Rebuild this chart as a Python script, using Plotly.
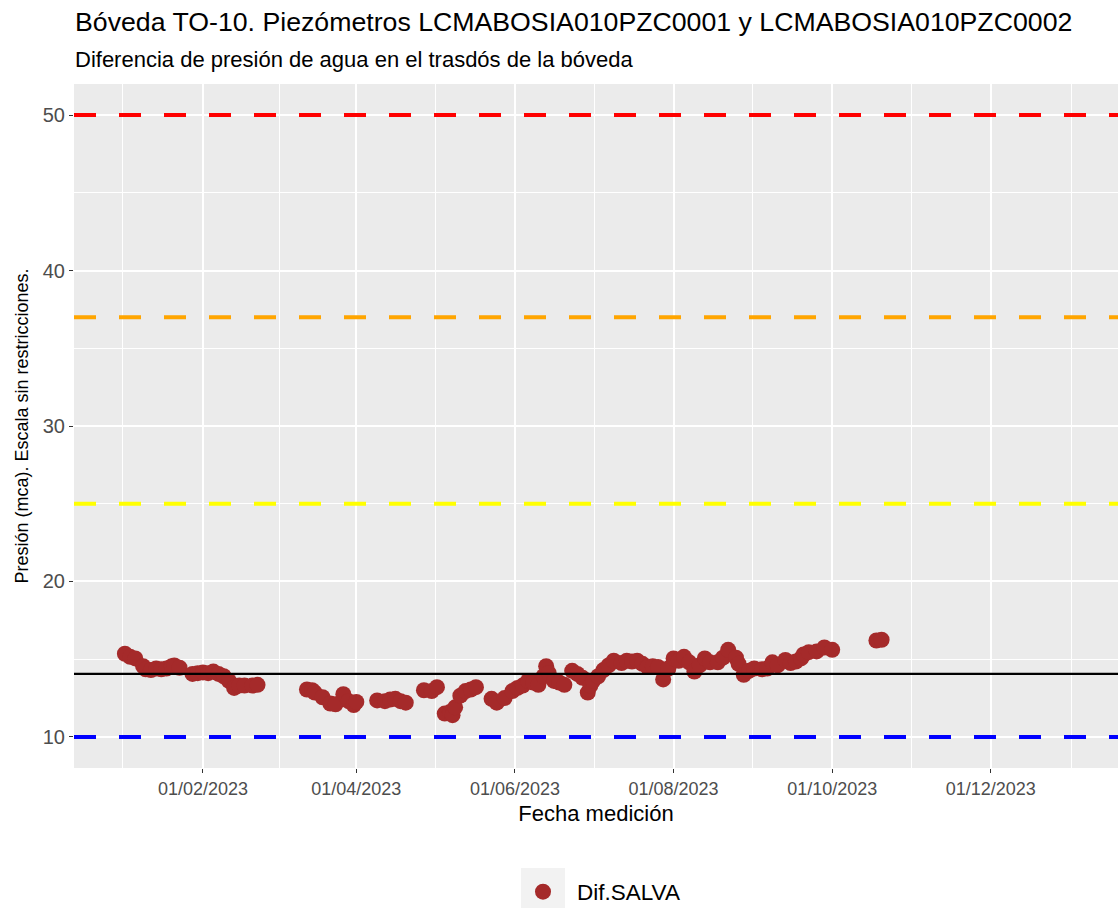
import pandas as pd
import plotly.graph_objects as go

# Medidas: diferencia de presión (mca) entre los dos piezómetros
fechas = [
    "2023-01-02", "2023-01-04", "2023-01-06", "2023-01-09", "2023-01-10", "2023-01-12",
    "2023-01-14", "2023-01-16", "2023-01-18", "2023-01-20", "2023-01-21", "2023-01-23",
    "2023-01-28", "2023-01-30", "2023-02-01", "2023-02-03", "2023-02-05", "2023-02-07",
    "2023-02-09", "2023-02-11", "2023-02-13", "2023-02-15", "2023-02-17", "2023-02-20",
    "2023-02-22",
    "2023-03-13", "2023-03-15", "2023-03-16", "2023-03-19", "2023-03-22", "2023-03-24",
    "2023-03-27", "2023-03-29", "2023-03-31", "2023-04-01", "2023-04-09", "2023-04-12",
    "2023-04-14", "2023-04-16", "2023-04-18", "2023-04-20", "2023-04-27", "2023-04-30",
    "2023-05-02", "2023-05-05", "2023-05-07", "2023-05-08", "2023-05-09", "2023-05-11",
    "2023-05-13", "2023-05-15", "2023-05-17",
    "2023-05-23", "2023-05-25", "2023-05-28", "2023-05-31", "2023-06-02", "2023-06-04",
    "2023-06-06", "2023-06-08", "2023-06-10", "2023-06-12", "2023-06-13", "2023-06-14",
    "2023-06-16", "2023-06-18", "2023-06-20", "2023-06-23", "2023-06-25", "2023-06-27",
    "2023-06-29", "2023-06-30",
    "2023-07-01", "2023-07-03", "2023-07-05", "2023-07-07", "2023-07-09", "2023-07-12",
    "2023-07-14", "2023-07-16", "2023-07-18", "2023-07-20", "2023-07-22", "2023-07-24",
    "2023-07-26", "2023-07-28", "2023-07-30", "2023-08-01", "2023-08-03", "2023-08-05",
    "2023-08-07", "2023-08-09", "2023-08-11", "2023-08-13", "2023-08-15", "2023-08-18",
    "2023-08-20", "2023-08-22", "2023-08-25", "2023-08-26", "2023-08-28", "2023-08-30",
    "2023-09-01", "2023-09-04", "2023-09-06", "2023-09-08", "2023-09-10", "2023-09-13",
    "2023-09-15", "2023-09-17", "2023-09-19", "2023-09-20", "2023-09-22", "2023-09-25",
    "2023-09-28", "2023-10-01", "2023-10-18", "2023-10-20",
]
dif_salva = [
    15.35, 15.15, 15.05, 14.55, 14.35, 14.30,
    14.40, 14.35, 14.40, 14.55, 14.60, 14.45,
    14.05, 14.10, 14.15, 14.10, 14.20, 14.05,
    13.90, 13.60, 13.15, 13.30, 13.30, 13.30,
    13.35,
    13.05, 13.00, 12.85, 12.55, 12.15, 12.10,
    12.75, 12.30, 12.05, 12.25, 12.35, 12.30,
    12.40, 12.45, 12.30, 12.20, 13.00, 12.95,
    13.20, 11.50, 11.60, 11.40, 11.90, 12.65,
    12.95, 13.05, 13.20,
    12.45, 12.20, 12.50, 12.95, 13.15, 13.30,
    13.60, 13.50, 13.35, 13.90, 14.55, 14.10,
    13.60, 13.50, 13.35, 14.25, 14.05, 13.80,
    12.85, 13.30,
    13.60, 13.90, 14.30, 14.60, 14.90, 14.75,
    14.90, 14.85, 14.90, 14.70, 14.50, 14.55,
    14.50, 13.70, 14.40, 15.05, 14.90, 15.15,
    14.80, 14.20, 14.60, 15.05, 14.80, 14.80,
    15.10, 15.60, 15.10, 14.70, 14.00, 14.25,
    14.40, 14.35, 14.40, 14.80, 14.60, 14.95,
    14.75, 14.85, 15.05, 15.30, 15.45, 15.50,
    15.75, 15.60, 16.20, 16.25,
]

# Umbrales de aviso y valor medio de referencia
umbrales = [50, 37, 25, 10]
colores_umbral = ["#FF0000", "#FFA500", "#FFFF00", "#0000FF"]
media = 14.05

# Ejes
x_breaks = ["2023-02-01", "2023-04-01", "2023-06-01", "2023-08-01", "2023-10-01", "2023-12-01"]
x_labels = ["01/02/2023", "01/04/2023", "01/06/2023", "01/08/2023", "01/10/2023", "01/12/2023"]
x_limits = ["2022-12-13 10:00", "2024-01-18 22:00"]
y_breaks = [10, 20, 30, 40, 50]
y_limits = [8, 52]

# Rejilla secundaria a mitad de camino entre marcas principales
bx = pd.to_datetime(["2022-12-01"] + x_breaks + ["2024-02-01"])
x_minor = [(a + (b - a) / 2).strftime("%Y-%m-%d %H:%M") for a, b in zip(bx[:-1], bx[1:])]
y_minor = [(a + b) / 2 for a, b in zip(y_breaks[:-1], y_breaks[1:])]

FONT = "Liberation Sans, Arial, sans-serif"
L, R, T, B = 74, 2, 84, 140
W, H = 1120, 908
PW, PH = W - L - R, H - T - B


def px_x(p):
    return (p - L) / PW


def px_y(p):
    return (H - B - p) / PH


fig = go.Figure()
fig.add_trace(go.Scatter(
    x=pd.to_datetime(fechas), y=dif_salva, mode="markers", name="Dif.SALVA",
    marker=dict(color="#A52A2A", size=16, line=dict(width=0)),
))

shapes = []
for v, c in zip(umbrales, colores_umbral):
    shapes.append(dict(type="line", xref="paper", x0=0, x1=1, yref="y", y0=v, y1=v,
                       line=dict(color=c, width=4, dash="22px,23px"), layer="above"))
shapes.append(dict(type="line", xref="paper", x0=0, x1=1, yref="y", y0=media, y1=media,
                   line=dict(color="black", width=2.2), layer="above"))
# Fondo de la clave de la leyenda
shapes.append(dict(type="rect", xref="paper", yref="paper",
                   x0=px_x(521), x1=px_x(565), y0=px_y(868), y1=px_y(912),
                   fillcolor="#F2F2F2", line=dict(width=0), layer="below"))

fig.update_layout(
    width=W, height=H,
    margin=dict(l=L, r=R, t=T, b=B, autoexpand=False),
    paper_bgcolor="white", plot_bgcolor="#EBEBEB",
    font=dict(family=FONT, color="black"),
    title=dict(
        text="Bóveda TO-10. Piezómetros LCMABOSIA010PZC0001 y LCMABOSIA010PZC0002",
        font=dict(size=26.7, family=FONT, color="black"),
        xref="container", x=75 / W, xanchor="left",
        yref="container", y=1 - 22 / H, yanchor="middle",
    ),
    annotations=[dict(
        text="Diferencia de presión de agua en el trasdós de la bóveda",
        xref="paper", x=px_x(73), xanchor="left",
        yref="paper", y=px_y(60), yanchor="middle",
        showarrow=False, font=dict(size=22, family=FONT, color="black"),
    )],
    shapes=shapes,
    showlegend=True,
    legend=dict(
        orientation="h", x=px_x(509), xanchor="left", y=px_y(892), yanchor="middle",
        font=dict(size=22.5, family=FONT, color="black"), bgcolor="rgba(0,0,0,0)",
        itemwidth=58,
    ),
    xaxis=dict(
        type="date", range=x_limits,
        tickmode="array", tickvals=x_breaks, ticktext=x_labels,
        ticks="outside", ticklen=4, tickwidth=1.1, tickcolor="#333333",
        tickfont=dict(size=18, family=FONT, color="#4D4D4D"),
        showgrid=True, gridcolor="white", gridwidth=1.5,
        minor=dict(tickmode="array", tickvals=x_minor, showgrid=True,
                   gridcolor="white", gridwidth=0.7, ticks=""),
        zeroline=False, showline=False,
        title=dict(text="Fecha medición", font=dict(size=22, family=FONT, color="black"),
                   standoff=8),
    ),
    yaxis=dict(
        range=y_limits, tickmode="array", tickvals=y_breaks,
        ticks="outside", ticklen=4, tickwidth=1.1, tickcolor="#333333",
        tickfont=dict(size=20, family=FONT, color="#4D4D4D"),
        showgrid=True, gridcolor="white", gridwidth=1.5,
        minor=dict(tickmode="array", tickvals=y_minor, showgrid=True,
                   gridcolor="white", gridwidth=0.7, ticks=""),
        zeroline=False, showline=False,
        title=dict(text="Presión (mca). Escala sin restricciones.",
                   font=dict(size=18, family=FONT, color="black"), standoff=9),
    ),
)

fig.write_html("out.html")
